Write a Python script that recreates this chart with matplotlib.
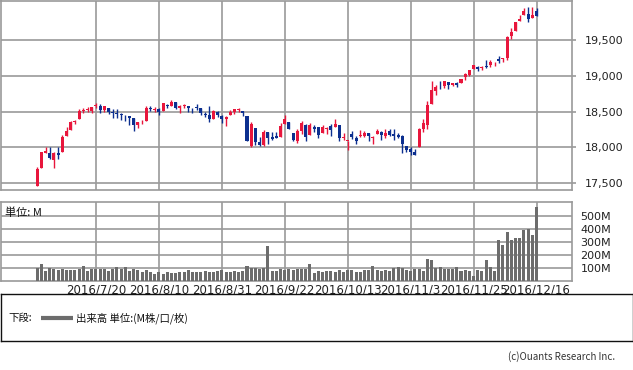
import matplotlib
matplotlib.use("Agg")
import matplotlib.pyplot as plt
import numpy as np

# ---------------- data ----------------
dates = ["6/29","6/30","7/1","7/5","7/6","7/7","7/8","7/11","7/12","7/13","7/14","7/15","7/18","7/19","7/20",
         "7/21","7/22","7/25","7/26","7/27","7/28","7/29","8/1","8/2","8/3","8/4","8/5","8/8","8/9","8/10",
         "8/11","8/12","8/15","8/16","8/17","8/18","8/19","8/22","8/23","8/24","8/25","8/26","8/29","8/30","8/31",
         "9/1","9/2","9/6","9/7","9/8","9/9","9/12","9/13","9/14","9/15","9/16","9/19","9/20","9/21","9/22",
         "9/23","9/26","9/27","9/28","9/29","9/30","10/3","10/4","10/5","10/6","10/7","10/10","10/11","10/12","10/13",
         "10/14","10/17","10/18","10/19","10/20","10/21","10/24","10/25","10/26","10/27","10/28","10/31","11/1","11/2","11/3",
         "11/4","11/7","11/8","11/9","11/10","11/11","11/14","11/15","11/16","11/17","11/18","11/21","11/22","11/23","11/25",
         "11/28","11/29","11/30","12/1","12/2","12/5","12/6","12/7","12/8","12/9","12/12","12/13","12/14","12/15","12/16"]

opens = [17456,17713,17924,17924,17825,17924,17930,18152,18240,18356,18389,18514,18517,18506,18577,
         18582,18524,18555,18494,18477,18464,18442,18434,18404,18304,18347,18361,18549,18525,18536,
         18510,18589,18581,18627,18546,18573,18575,18541,18560,18543,18466,18451,18398,18495,18441,
         18397,18445,18495,18525,18508,18440,18018,18264,18069,18025,18218,18148,18155,18149,18322,
         18355,18198,18092,18230,18315,18166,18279,18283,18198,18250,18295,18282,18308,18133,18088,
         18178,18128,18158,18163,18200,18133,18183,18213,18160,18226,18182,18173,18159,18017,17979,
         17929,17995,18252,18317,18604,18782,18876,18858,18909,18866,18904,18898,18985,19018,19094,
         19122,19106,19143,19149,19165,19240,19237,19253,19554,19631,19772,19853,19876,19811,19909]
highs = [17716,17931,18003,17999,17935,17999,18166,18284,18372,18386,18537,18549,18558,18560,18622,
         18605,18571,18555,18531,18531,18477,18453,18434,18404,18355,18377,18571,18582,18565,18555,
         18614,18610,18668,18627,18586,18609,18575,18546,18602,18548,18490,18580,18516,18513,18451,
         18438,18517,18538,18553,18508,18440,18359,18264,18148,18236,18218,18219,18215,18342,18450,
         18355,18198,18258,18365,18327,18342,18311,18287,18313,18280,18319,18400,18309,18193,18088,
         18229,18152,18239,18228,18200,18155,18258,18220,18250,18258,18251,18197,18177,18019,18004,
         17980,18264,18400,18650,18934,18873,18935,18925,18916,18904,18910,18963,19043,19083,19153,
         19141,19144,19226,19225,19202,19274,19251,19558,19669,19757,19853,19953,19967,19967,19949]
lows = [17456,17712,17913,17834,17713,17834,17930,18152,18240,18329,18389,18475,18490,18480,18550,
        18483,18494,18467,18406,18411,18384,18371,18311,18232,18268,18324,18361,18508,18497,18451,
        18510,18548,18581,18542,18480,18550,18500,18475,18520,18451,18418,18351,18398,18424,18344,
        18300,18445,18468,18489,18443,18085,17995,18028,18011,18012,18045,18102,18126,18149,18322,
        18250,18088,18051,18188,18093,18166,18210,18131,18198,18191,18162,18282,18082,18094,17960,
        18114,18049,18148,18146,18090,18040,18183,18107,18135,18152,18096,18132,17921,17931,17884,
        17883,17995,18216,18259,18604,18736,18820,18830,18821,18852,18843,18898,18948,19002,19094,
        19073,19081,19113,19131,19135,19182,19190,19228,19525,19631,19772,19853,19755,19811,19843]
closes = [17695,17930,17949,17841,17919,17896,18147,18227,18348,18372,18506,18517,18533,18559,18595,
          18517,18571,18493,18474,18472,18456,18432,18405,18314,18355,18352,18544,18529,18533,18496,
          18614,18576,18636,18552,18574,18598,18553,18529,18547,18481,18448,18395,18503,18454,18401,
          18419,18492,18538,18526,18480,18085,18325,18067,18035,18212,18124,18120,18130,18294,18392,
          18261,18095,18228,18339,18143,18308,18254,18168,18281,18269,18240,18329,18129,18144,18099,
          18138,18086,18162,18203,18162,18146,18223,18169,18199,18170,18161,18142,18037,17960,17931,
          17888,18260,18333,18590,18808,18848,18869,18923,18868,18904,18868,18957,19024,19083,19152,
          19098,19122,19124,19192,19170,19216,19252,19550,19615,19757,19796,19911,19793,19852,19843]

volumes = [104,133,81,102,94,83,96,86,88,83,96,120,75,96,96,
           94,94,75,94,112,96,112,81,94,88,68,86,68,55,70,
           55,70,65,65,70,70,88,70,70,70,78,70,70,81,88,
           70,70,78,70,81,117,104,104,96,104,270,81,75,94,83,
           94,88,94,96,90,133,60,74,70,75,75,68,86,70,83,
           83,68,68,86,86,115,86,75,86,81,99,107,99,86,75,
           91,91,75,172,161,102,107,91,91,91,107,81,86,78,39,
           86,81,164,109,78,320,281,383,318,336,336,393,406,359,570]

tick_labels = ["2016/7/20","2016/8/10","2016/8/31","2016/9/22","2016/10/13","2016/11/3","2016/11/25","2016/12/16"]
price_ticks = [17500, 18000, 18500, 19000, 19500]
price_tick_labels = ["17,500", "18,000", "18,500", "19,000", "19,500"]
vol_ticks = [100, 200, 300, 400, 500]
vol_tick_labels = ["100M", "200M", "300M", "400M", "500M"]

# ---------------- figure ----------------
W, H = 633, 370
fig = plt.figure(figsize=(W / 100, H / 100), dpi=100)
fig.patch.set_facecolor("white")

def rect(x0, y0, x1, y1):
    return [x0 / W, 1 - y1 / H, (x1 - x0) / W, (y1 - y0) / H]

RED = "#e8163c"
BLUE = "#0c2f8f"
GRID = "#9a9a9a"
VOL = "#6c6c6c"
CJK = ["Noto Sans CJK JP", "DejaVu Sans"]

x = np.arange(len(closes))
tick_idx = [dates.index(t.split("/", 1)[1]) for t in tick_labels]

# price panel
ax = fig.add_axes(rect(0.5, 0.5, 572, 190))
o = np.array(opens); c = np.array(closes); h = np.array(highs); l = np.array(lows)
cols = np.where(c >= o, RED, BLUE)
ax.vlines(x, l, h, colors=cols, linewidth=1.0, zorder=3)
body_h = np.maximum(np.abs(c - o), 6)
ax.bar(x, body_h, bottom=np.minimum(o, c), width=0.72, color=cols, linewidth=0, zorder=4)
ax.set_xlim(-8.74, 127.45)
ax.set_ylim(17398, 20059)
ax.yaxis.tick_right()
ax.set_yticks(price_ticks)
ax.set_yticklabels(price_tick_labels, fontsize=8, color="#222222")
ax.tick_params(axis="y", length=3, width=1.2, color=GRID, pad=6)
ax.set_xticks(tick_idx)
ax.tick_params(axis="x", length=0, labelbottom=False)
ax.grid(True, color=GRID, linewidth=1.2)
ax.set_axisbelow(True)
for s in ax.spines.values():
    s.set_color(GRID); s.set_linewidth(1.2)

# volume panel
av = fig.add_axes(rect(0.5, 202, 572, 281))
av.bar(x, volumes, width=0.72, color=VOL, linewidth=0, zorder=3)
av.set_xlim(-8.74, 127.45)
av.set_ylim(0, 612)
av.yaxis.tick_right()
av.set_yticks(vol_ticks)
av.set_yticklabels(vol_tick_labels, fontsize=8, color="#222222")
av.tick_params(axis="y", length=0, pad=6)
av.set_xticks(tick_idx)
av.set_xticklabels(tick_labels, fontsize=8.5, color="#222222")
av.tick_params(axis="x", length=0, pad=2)
av.grid(True, color=GRID, linewidth=1.2)
av.set_axisbelow(True)
for s in av.spines.values():
    s.set_color(GRID); s.set_linewidth(1.2)
av.text(0.008, 0.93, "単位: M", transform=av.transAxes, ha="left", va="top",
        fontsize=8, family=CJK, color="#111111")

# legend box
lg = fig.add_axes(rect(0.5, 294, 632.5, 341))
lg.set_xlim(0, 632); lg.set_ylim(47, 0)
lg.set_xticks([]); lg.set_yticks([])
for s in lg.spines.values():
    s.set_color("#111111"); s.set_linewidth(1.0)
lg.text(8, 24, "下段:", fontsize=7.5, family=CJK, va="center", ha="left", color="#111111")
lg.plot([40, 72], [24, 24], color=VOL, linewidth=3, solid_capstyle="butt")
lg.text(76, 24, "出来高 単位:(M株/口/枚)", fontsize=7.5, family=CJK, va="center", ha="left", color="#111111")

fig.text(615 / W, 1 - 357 / H, "(c)Ouants Research Inc.", fontsize=7, family=CJK,
         ha="right", va="center", color="#333333")

fig.savefig("out.png", dpi=100, facecolor="white")
